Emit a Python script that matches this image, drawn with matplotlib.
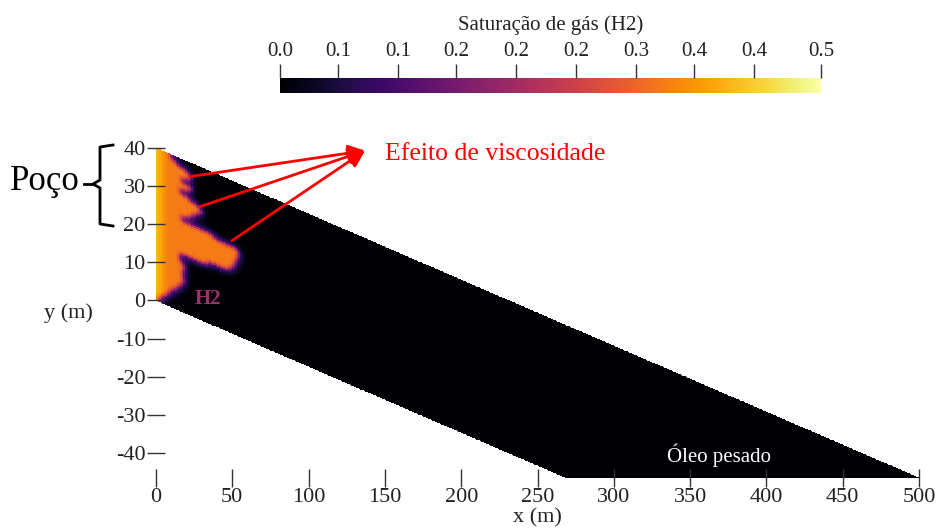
import numpy as np
import matplotlib
matplotlib.use('Agg')
from matplotlib import pyplot as plt

plt.rcParams['font.family'] = ['Liberation Serif', 'DejaVu Serif']
plt.rcParams['axes.unicode_minus'] = False

# domain (m): 500 m long, 40 m thick, drawn with a shear (oblique view)
length = 500
height = 40
shear = 0.1732  # screen drop per metre along x

# H2 reach (m) for each 1 m row, bottom row (v=0..1) first
reach = [2, 4, 7, 9, 11, 14, 16, 18, 19, 18,
         18, 19, 19, 16, 16, 34, 48, 51, 52, 53,
         54, 55, 54, 38, 17, 22, 25, 28, 31, 28,
         22, 16, 22, 24, 17, 22, 24, 20, 14, 10]
s_plume = 0.355
well_strip = [0.425, 0.415, 0.405, 0.395, 0.385, 0.375, 0.365]

x_ticks = [0, 50, 100, 150, 200, 250, 300, 350, 400, 450, 500]
y_ticks = [-40, -30, -20, -10, 0, 10, 20, 30, 40]
cb_ticks = [0, 0.054, 0.109, 0.163, 0.218, 0.274, 0.329, 0.383, 0.438, 0.5]
cb_labels = ['0.0', '0.1', '0.1', '0.2', '0.2', '0.2', '0.3', '0.4', '0.4', '0.5']

# saturation field: 1 m cells along, 0.5 m cells across
dv = 0.5
rows = np.repeat(reach, int(1 / dv))
sat = np.zeros((len(rows), length))
for row, r in enumerate(rows):
    sat[row, :r] = s_plume
    n = min(r, len(well_strip))
    sat[row, :n] = well_strip[:n]


def smooth(a, axis, passes):
    k = np.array([0.25, 0.5, 0.25])
    for _ in range(passes):
        pad = [(0, 0), (0, 0)]
        pad[axis] = (1, 1)
        b = np.pad(a, pad, mode='edge')
        a = np.apply_along_axis(lambda c: np.convolve(c, k, mode='valid'), axis, b)
    return a


front = smooth(smooth(sat, 1, 5), 0, 3)
halo = smooth(smooth(sat, 1, 16), 0, 10)
sat = np.maximum(front, 0.72 * halo)

u = np.arange(length + 1)
v = np.arange(len(rows) + 1) * dv
U, V = np.meshgrid(u, v)
Y = V - shear * U

fig = plt.figure(figsize=(9.41, 5.28), dpi=100)
ax = fig.add_axes([156 / 941, 1 - 478 / 528, 763 / 941, 330 / 528])
mesh = ax.pcolormesh(U, Y, sat, cmap='inferno', vmin=0, vmax=0.5, shading='flat')
ax.set_xlim(0, length)
ax.set_ylim(height - shear * length, height)
for sp in ax.spines.values():
    sp.set_visible(False)
ax.set_xticks(x_ticks)
ax.set_yticks(y_ticks)
ax.tick_params(direction='inout', length=13, width=1, color='#333333',
               labelsize=16, labelcolor='#222222', pad=1)
ax.set_xlabel('x (m)', fontsize=16, color='#222222')
ax.xaxis.set_label_coords(0.5, -0.12)
ax.xaxis.label.set_va('center')
ax.set_ylabel('y (m)', fontsize=16, color='#222222', rotation=0)
ax.yaxis.set_label_coords(-0.115, 0.5)
ax.yaxis.label.set_va('center')
ax.yaxis.label.set_ha('center')

# colorbar at top
cax = fig.add_axes([280 / 941, 1 - 93 / 528, 541 / 941, 15 / 528])
cb = fig.colorbar(mesh, cax=cax, orientation='horizontal')
cb.outline.set_visible(False)
cax.xaxis.set_ticks_position('top')
cax.set_xticks(cb_ticks)
cax.set_xticklabels(cb_labels)
cax.tick_params(direction='out', length=10, width=1, color='#333333',
                labelsize=15, labelcolor='#222222', pad=2)
cax.set_title('Saturação de gás (H2)', fontsize=15, color='#222222', pad=9)

# annotations
ax.text(34, 0.5, 'H2', color='#a0306a', fontsize=15, fontweight='bold',
        ha='center', va='center')
ax.text(369, -40.5, 'Óleo pesado', color='white', fontsize=15,
        ha='center', va='center')
tip = (137, 39.3)
for start in [(22.3, 32.5), (28.8, 24.6), (49.8, 15.7)]:
    ax.annotate('', xy=tip, xytext=start, annotation_clip=False,
                arrowprops=dict(arrowstyle='-|>,head_length=1.0,head_width=0.5',
                                color='red', lw=2, shrinkA=0, shrinkB=0))
ax.text(150, 38.3, 'Efeito de viscosidade', color='red', fontsize=18.5,
        ha='left', va='center')

# brace for the well interval
ov = fig.add_axes([0, 0, 1, 1])
ov.set_xlim(0, 941)
ov.set_ylim(528, 0)
ov.axis('off')
ov.plot([113, 100, 100, 93, 100, 100, 113], [145, 147, 180, 184, 188, 224, 226],
        color='black', lw=2)
ov.plot([84, 93], [184, 184], color='black', lw=2)
ov.text(10, 182, 'Poço', fontsize=25, ha='left', va='center')

fig.savefig('out.png', dpi=100)
